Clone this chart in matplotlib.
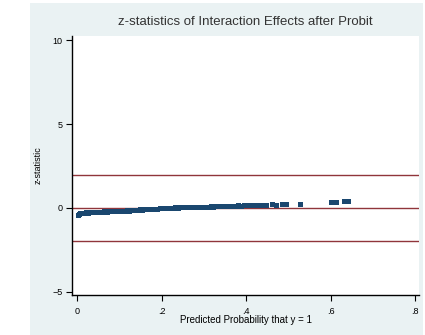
import numpy as np
import matplotlib as mpl
mpl.use("Agg")
import matplotlib.pyplot as plt
from matplotlib.patches import Rectangle

plt.rcParams['font.family'] = ['Liberation Sans', 'DejaVu Sans']

# predicted probability (x) and z-statistic (y)
prob = [0.002, 0.004, 0.006, 0.008, 0.010, 0.013, 0.016, 0.019, 0.022, 0.026,
        0.030, 0.034, 0.038, 0.042, 0.047, 0.052,
        0.058, 0.064, 0.070, 0.076, 0.082, 0.088, 0.094, 0.100, 0.106, 0.112,
        0.118, 0.124, 0.130, 0.136,
        0.142, 0.148, 0.154, 0.160, 0.166, 0.172, 0.178, 0.184, 0.190, 0.196,
        0.202, 0.208, 0.214, 0.220,
        0.226, 0.232, 0.238, 0.244, 0.250, 0.256, 0.262, 0.268, 0.274, 0.280,
        0.286, 0.292, 0.298, 0.304, 0.310, 0.316, 0.322, 0.328, 0.334,
        0.340, 0.346, 0.352, 0.358, 0.364, 0.370, 0.376, 0.382, 0.388, 0.394,
        0.402, 0.410, 0.418, 0.426, 0.436, 0.448, 0.462, 0.470, 0.484, 0.495, 0.527,
        0.601, 0.612, 0.632, 0.642]
zstat = [-0.42, -0.36, -0.33, -0.31, -0.30, -0.29, -0.30, -0.28, -0.27, -0.28,
         -0.26, -0.27, -0.25, -0.26, -0.24, -0.23,
         -0.22, -0.21, -0.22, -0.20, -0.19, -0.20, -0.18, -0.17, -0.18, -0.16,
         -0.15, -0.16, -0.14, -0.13,
         -0.10, -0.09, -0.10, -0.08, -0.07, -0.08, -0.06, -0.05, -0.06, -0.04,
         -0.03, -0.04, -0.02, -0.01,
         0.01, 0.02, 0.01, 0.03, 0.02, 0.04, 0.03, 0.04, 0.05, 0.04,
         0.06, 0.05, 0.06, 0.07, 0.06, 0.08, 0.07, 0.09, 0.08,
         0.10, 0.09, 0.11, 0.12, 0.11, 0.13, 0.12, 0.14, 0.13, 0.15,
         0.16, 0.15, 0.17, 0.16, 0.18, 0.17, 0.20, 0.19, 0.22, 0.21, 0.24,
         0.36, 0.36, 0.38, 0.40]

# reference lines at +/- 1.96 and 0
ref_lines = [1.96, 0, -1.96]

xticks = [0, 0.2, 0.4, 0.6, 0.8]
xtick_labels = ['0', '.2', '.4', '.6', '.8']
yticks = [-5, 0, 5, 10]

W, H = 425, 335
fig = plt.figure(figsize=(W/100, H/100), dpi=100)
fig.patch.set_facecolor('white')

# Stata-like graph region, behind the axes
bg = Rectangle((30/W, 0), (423-30)/W, (H-3)/H, transform=fig.transFigure,
               facecolor='#eaf2f3', edgecolor='none', zorder=-10)
fig.add_artist(bg)

ax = fig.add_axes([72/W, (H-295)/H, (419-72)/W, (295-36)/H])
ax.set_facecolor('white')

for r in ref_lines:
    ax.axhline(r, color='#90353b', lw=1.0, zorder=1)

ax.plot(prob, zstat, ls='none', marker='s', ms=3.6, mew=0, color='#1a476f', zorder=2)

ax.set_xlim(-0.0118, 0.809)
ax.set_ylim(-5.2, 10.25)
ax.set_xticks(xticks)
ax.set_xticklabels(xtick_labels)
ax.set_yticks(yticks)

for s in ['top', 'right']:
    ax.spines[s].set_visible(False)
for s in ['left', 'bottom']:
    ax.spines[s].set_linewidth(1.0)
    ax.spines[s].set_color('black')

ax.tick_params(axis='both', labelsize=6.5, length=4, width=0.8, color='black', pad=3)
ax.tick_params(axis='x', pad=5)

ax.set_xlabel('Predicted Probability that y = 1', fontsize=7, labelpad=-1)
ax.set_ylabel('z-statistic', fontsize=6.5, labelpad=7)
ax.set_title('z-statistics of Interaction Effects after Probit', fontsize=9.5, pad=8,
             color='#333333')

fig.savefig('out.png', dpi=100)
